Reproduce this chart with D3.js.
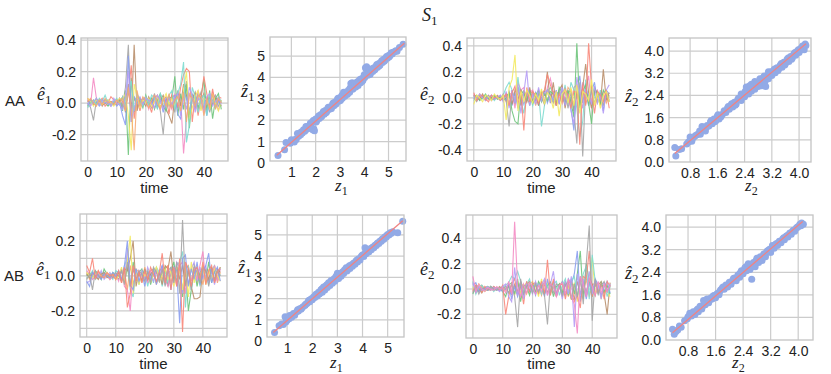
<!DOCTYPE html>
<html>
<head>
<meta charset="utf-8">
<script src="https://cdn.jsdelivr.net/npm/d3@7"></script>
<style>
  body { margin: 0; background: #fff; }
  text { font-family: "Liberation Sans", Arial, sans-serif; fill: #222; }
</style>
</head>
<body>
<div id="chart"></div>
<script>
//----------DATA----------
// residuals, in hundredths, time index 0..46
var aaE1_pink   = [2,-1,16,3,0,-1,2,1,-2,0, 1,2,-3,4,8,-6,3,-2,1,0, 2,-4,3,1,-2,5,-3,2,0,-4, 6,-3,4,-32,-10,5,3,-4,8,2, -6,4,-2,7,3,-5,2];
var aaE1_grey   = [0,-3,-11,2,1,-1,0,2,-1,1, 0,3,-2,10,37,-12,4,-2,3,-1, 2,0,-3,4,2,-5,-20,3,-2,5, -6,8,-2,4,14,-8,6,-3,2,7, -4,3,-6,2,5,-2,1];
var aaE1_brown  = [1,2,-1,0,2,-2,1,0,1,-1, 2,0,4,-6,12,-8,37,-5,3,1, -2,4,0,6,-3,2,5,-4,-8,-13, 4,6,-2,12,5,-9,3,7,-4,2, 6,-3,4,-1,3,2,-2];
var aaE1_green  = [-2,1,0,3,-1,2,0,-2,1,0, -1,2,-5,8,-33,16,-6,4,2,-3, 5,-1,3,-4,2,6,-2,-5,4,3, 17,-8,6,-4,12,-16,5,2,-3,4, 15,-6,8,-10,3,6,-4];
var aaE1_salmon = [3,0,2,-1,1,3,-2,0,4,2, -1,3,1,-4,6,24,-10,3,-5,2, 4,0,-6,3,5,-3,2,4,-7,6, 3,-2,10,18,22,20,-12,5,-8,3, 17,6,-3,9,-2,4,3];
var aaE1_blue   = [-1,2,0,1,-2,0,2,-1,0,1, -2,0,-8,-14,30,-6,4,1,-2,3, 0,2,-1,5,-3,2,-6,3,4,-2, 5,-7,-10,8,3,-5,4,-2,6,-4, 3,-8,2,5,-3,1,0];
var aaE1_yellow = [3,1,-2,2,0,-1,1,2,0,-2, 1,3,2,6,-8,-30,12,4,-3,2, 0,3,-2,1,4,-3,2,6,-1,3, -2,5,-6,8,20,-10,-3,4,8,-5, 3,2,-4,6,0,-5,2];
var aaE1_cyan   = [-3,0,2,-1,3,1,5,0,-2,1, 3,-1,4,-3,8,14,-5,6,2,-2, 4,-1,5,3,-4,6,2,-3,5,8, -4,6,12,26,-25,-14,10,4,-6,3, 5,-8,6,2,-3,4,1];
var aaE1_purple = [0,-2,1,3,-1,2,0,1,-2,3, 0,-1,-4,5,20,-12,-3,2,4,-1, 3,2,0,-3,5,2,-4,1,3,-2, 4,6,-8,3,-4,10,5,-6,3,2, -5,4,6,-2,1,3,-1];
var aaE1_orange = [1,3,0,-2,2,-1,3,0,1,-1, 2,0,3,-5,10,-4,-30,8,-2,4, 1,-3,2,5,0,-4,3,-2,6,-3, 2,4,-5,7,-12,6,3,-2,5,4, -8,2,-3,6,-4,3,0];

var aaE2_yellow = [-5,2,0,-3,2,1,-2,3,0,-1, 2,-17,8,14,33,-10,5,-3,6,2, -4,3,-2,7,-5,4,1,-8,5,-14, 3,6,-4,8,-6,10,-12,5,3,-2, 14,-6,4,-8,2,5,-3];
var aaE2_purple = [2,-1,3,0,-2,1,2,-1,0,2, -3,5,-8,6,-4,10,-12,4,21,-6, 3,-5,8,-2,4,6,-3,2,5,-4, 8,-6,3,-10,-20,16,4,-8,6,3, -5,9,-4,2,-12,6,10];
var aaE2_salmon = [4,-2,1,2,-1,-3,2,0,1,-2, 0,3,-6,4,9,-5,6,-25,8,-3, 5,2,-4,3,6,18,10,4,-6,3, -4,7,2,-8,5,4,-36,10,-6,42, 8,-12,5,2,-3,6,-8];
var aaE2_green  = [1,2,-2,0,3,-1,0,2,-1,1, -2,0,4,-10,-18,-20,6,3,-2,5, -4,2,6,-3,4,-2,5,3,-6,8, 4,-5,6,-3,-15,42,-8,5,10,-4, -20,8,3,-5,6,2,-3];
var aaE2_grey   = [0,-3,2,1,0,2,-2,1,0,-1, 3,-2,-22,6,-4,8,-3,5,2,-6, 4,-2,3,0,-5,6,2,-4,3,5, -2,6,-8,4,-10,-35,12,-45,8,-5, 6,-4,3,2,-6,4,-2];
var aaE2_brown  = [2,0,-1,3,-2,1,0,-1,2,0, -1,2,3,-5,6,2,-6,4,-3,8, -4,3,-6,5,2,20,-4,12,-5,6, 10,-8,4,6,-10,5,-6,8,26,4, -8,6,3,-5,22,-2,4];
var aaE2_cyan   = [-2,1,0,-1,2,0,1,-2,1,0, 2,8,12,6,-4,16,-2,-12,5,3, -6,2,4,-22,-6,5,8,3,-4,6, -3,10,-5,12,6,-8,-30,-18,14,-6, 10,3,-4,6,-2,4,1];
var aaE2_pink   = [3,-2,1,0,-1,2,-2,1,0,2, -1,3,-4,5,-8,12,6,8,-3,4, 6,-2,5,3,-4,8,15,4,-6,3, 6,-2,5,-4,8,10,-5,12,6,17, -8,4,6,-3,5,2,-2];
var aaE2_blue   = [0,1,-2,2,-1,0,2,-1,1,-2, 0,-2,5,-6,4,-8,3,-5,2,6, -3,4,-6,2,5,-4,3,-2,6,-5, 8,-4,5,-8,-25,6,17,-4,8,-6, 5,12,-3,4,-10,6,3];
var aaE2_orange = [2,-1,3,1,-2,0,-1,2,-1,0, 1,-3,4,2,-5,8,-4,6,-2,3, 5,-6,2,4,-3,6,-2,5,3,-4, 2,-6,8,5,-6,4,-3,6,-5,3, -2,5,4,-6,3,-4,2];

var abE1_salmon = [6,2,10,-2,3,0,-1,2,0,1, -2,3,-4,5,-18,-10,6,-3,2,-4, 3,-2,5,1,-3,2,13,-4,6,-8, 5,-6,10,-32,8,4,-6,3,5,-2, 8,-5,3,6,-4,2,5];
var abE1_grey   = [-2,1,-8,3,0,-1,2,0,1,-1, 2,0,3,-5,8,-6,4,-2,3,1, -3,2,-4,5,2,-3,4,-6,3,5, -4,8,-10,32,-6,4,-8,6,2,-4, 5,3,-6,4,-2,3,0];
var abE1_yellow = [2,0,-1,2,1,0,-1,2,0,1, -2,0,5,-4,8,23,-10,3,-5,2, 0,3,-4,2,5,-3,1,4,-2,3, -6,5,2,-8,6,-12,8,-4,3,-2, 6,-5,3,-2,4,0,-3];
var abE1_blue   = [-3,-6,2,0,1,-2,1,0,-1,2, 0,3,-2,6,20,-5,-8,4,-3,2, -6,3,-2,4,-5,2,6,-3,4,-8, 5,3,-27,10,12,-6,4,-2,8,-5, 3,6,13,-4,2,5,-3];
var abE1_pink   = [3,1,-2,0,2,-1,0,1,-2,0, 1,-3,4,-6,-8,-20,5,-2,3,-1, 2,-4,3,0,2,-3,5,-2,-6,4, 3,-5,6,8,-10,4,-3,5,-2,6, 14,-4,3,-2,6,-3,4];
var abE1_brown  = [1,-1,2,0,-2,1,2,-1,0,1, -2,2,-3,4,3,10,20,-6,2,-3, 4,-2,1,3,-4,2,-5,6,4,14, -3,5,-2,6,-5,3,-6,-13,-13,-12, 4,3,-2,5,-3,4,2];
var abE1_green  = [0,2,-1,3,1,-2,4,1,-1,2, 0,-2,3,-4,5,-6,8,-3,2,4, -2,3,-5,2,4,-3,2,5,-6,3, 8,-4,6,-12,5,-20,-8,4,-6,2, 5,-3,8,-4,3,-2,5];
var abE1_cyan   = [-1,0,3,-2,0,2,-1,1,0,-2, 3,2,-3,6,10,-8,-12,4,-5,2, 3,-6,2,-4,5,2,-6,3,-4,5, -2,6,8,14,-18,6,-8,3,5,-6, 4,2,-5,3,6,-2,1];
var abE1_purple = [-4,-3,0,2,-1,3,-2,0,2,-1, 1,0,4,-3,16,-6,5,2,-4,3, -2,5,0,-3,4,-2,6,-5,3,2, -4,8,5,-10,6,-5,4,8,-3,5, -2,6,-4,3,-5,2,4];
var abE1_orange = [2,-2,1,0,3,-1,2,0,-2,1, 0,2,-4,3,-8,6,-5,4,2,-3, 5,-2,3,4,-5,3,-2,4,6,-4, 3,-6,5,-8,4,6,-3,5,-4,2, -5,4,3,-2,6,-4,2];

var abE2_pink   = [10,-2,4,0,-2,1,0,-1,2,0, 1,-3,6,-4,53,2,-6,4,-3,5, 2,-4,3,-2,6,-5,4,2,-6,3, 5,-4,8,-6,-12,-35,10,4,-6,8, 2,-5,6,-3,4,-2,3];
var abE2_purple = [5,-3,2,-1,0,2,-1,1,0,-2, 2,4,-6,-10,17,-5,6,-8,4,2, -4,6,-2,3,8,-5,4,14,-6,3, -8,6,-4,10,-30,12,-5,8,-6,14, -4,6,3,-8,5,-2,4];
var abE2_grey   = [-3,2,-4,1,0,-1,2,0,-1,1, 0,2,-3,4,-6,-30,8,-4,2,5, -3,4,-2,3,-5,-28,6,-3,4,2, -5,3,6,-8,4,-6,10,-12,20,50, -25,8,-4,3,6,-2,3];
var abE2_salmon = [-2,3,1,-3,2,0,-1,2,0,-1, 3,-20,-6,4,8,-4,3,-12,6,-2, 4,5,-3,6,-4,23,-5,8,-6,3, 4,-8,5,6,-10,-5,-15,10,8,30, -6,5,-3,4,-8,6,2];
var abE2_cyan   = [6,-4,2,3,-1,0,2,-2,1,0, 1,3,5,10,8,14,6,-3,4,8, -2,5,3,-4,6,2,-3,4,6,-5, 3,8,-4,6,10,-6,4,12,18,-8, 27,6,-4,3,5,-6,2];
var abE2_blue   = [3,5,-2,0,1,-1,0,2,-1,1, -2,0,4,-8,2,-6,3,-4,5,-2, 3,-5,4,2,-6,8,-3,5,-4,2, 6,-5,8,4,12,30,-10,6,-8,5, -4,8,3,-5,2,6,-3];
var abE2_green  = [-4,2,0,-3,1,2,0,-1,1,0, -2,-6,3,5,-4,8,-10,3,2,-5, 4,-3,6,2,-4,3,5,-6,2,4, -3,6,-5,8,-4,12,30,-8,20,6, -6,4,-3,5,-2,3,-4];
var abE2_yellow = [2,-3,4,1,-2,0,-1,2,0,1, -1,0,-3,4,-5,6,-3,2,5,-2, 4,3,-6,8,-3,5,-2,4,-6,3, 6,-4,2,-8,5,-10,8,4,-6,6, 25,-4,5,-8,3,-2,-6];
var abE2_brown  = [1,0,-2,3,0,-1,2,-1,0,2, -1,0,2,-4,3,-2,5,-3,4,6, -2,3,-4,2,5,-3,4,2,-5,3, -6,4,2,-8,-8,6,-4,5,-3,8, 4,-5,3,6,-4,-20,5];
var abE2_orange = [-1,3,2,-2,1,0,2,-1,1,0, 2,-1,3,-2,4,-3,5,2,-4,3, 6,-2,4,-5,3,2,-4,6,-3,4, -2,5,-6,4,3,-5,6,-4,8,-6, 3,5,-2,4,-3,2,-1];

// scatter points [z, z_hat]
var aaZ1 = [[0.45,0.35],[0.72,0.62],[0.78,0.95],[0.95,0.92],[1.0,1.08],[1.05,1.0],[1.12,0.98],[1.15,1.1],[1.2,1.1],[1.25,1.38],
  [1.3,1.25],[1.38,1.32],[1.4,1.45],[1.45,1.4],[1.5,1.55],[1.55,1.48],[1.6,1.7],[1.6,1.55],[1.65,1.6],[1.7,1.72],
  [1.72,1.62],[1.75,1.68],[1.78,1.85],[1.8,1.75],[1.85,1.9],[1.88,1.55],[1.9,1.98],[1.92,1.6],[1.95,1.5],[1.98,1.95],
  [2.0,2.05],[2.02,1.92],[2.05,1.98],[2.1,2.12],[2.12,2.2],[2.15,2.08],[2.2,2.25],[2.22,2.15],[2.25,2.18],[2.3,2.35],
  [2.32,2.4],[2.35,2.28],[2.4,2.45],[2.42,2.35],[2.45,2.38],[2.5,2.55],[2.52,2.6],[2.55,2.5],[2.6,2.62],[2.62,2.55],
  [2.65,2.55],[2.7,2.75],[2.72,2.8],[2.75,2.68],[2.8,2.85],[2.82,2.75],[2.85,2.78],[2.9,2.98],[2.92,3.02],[2.95,2.88],
  [3.0,3.05],[3.02,2.92],[3.05,3.0],[3.08,3.15],[3.1,3.02],[3.12,3.2],[3.15,3.3],[3.2,3.12],[3.22,3.3],[3.25,3.28],
  [3.3,3.2],[3.32,3.25],[3.35,3.4],[3.4,3.3],[3.42,3.5],[3.45,3.72],[3.5,3.68],[3.5,3.75],[3.52,3.45],[3.55,3.48],
  [3.6,3.65],[3.6,3.72],[3.62,3.7],[3.65,3.55],[3.7,3.78],[3.72,3.68],[3.75,3.62],[3.8,3.85],[3.82,3.9],[3.85,3.75],
  [3.9,3.95],[3.92,3.82],[3.95,3.88],[4.0,4.12],[4.02,4.0],[4.05,4.45],[4.08,4.4],[4.1,4.5],[4.12,4.35],[4.12,4.2],
  [4.15,4.1],[4.2,4.25],[4.22,4.15],[4.25,4.15],[4.3,4.35],[4.32,4.4],[4.35,4.28],[4.4,4.45],[4.42,4.35],[4.45,4.38],
  [4.5,4.55],[4.52,4.6],[4.55,4.48],[4.6,4.65],[4.62,4.55],[4.65,4.58],[4.7,4.72],[4.72,4.78],[4.75,4.7],[4.8,4.85],
  [4.82,4.75],[4.85,4.8],[4.9,4.92],[4.92,4.98],[4.95,4.9],[5.0,5.02],[5.02,4.95],[5.05,5.0],[5.1,5.12],[5.12,5.15],
  [5.15,5.1],[5.2,5.18],[5.25,5.2],[5.3,5.25],[5.35,5.22],[5.45,5.4],[5.6,5.55]];
var aaZ2 = [[0.35,0.52],[0.38,0.22],[0.48,0.45],[0.55,0.48],[0.7,0.65],[0.75,0.72],[0.8,0.9],[0.85,0.75],[0.9,0.88],[0.95,0.95],
  [1.0,0.98],[1.05,1.02],[1.08,1.12],[1.1,1.0],[1.15,1.28],[1.18,1.15],[1.2,1.25],[1.25,1.12],[1.28,1.25],[1.3,1.32],
  [1.35,1.3],[1.4,1.45],[1.42,1.5],[1.45,1.38],[1.5,1.55],[1.52,1.45],[1.55,1.48],[1.6,1.65],[1.62,1.7],[1.65,1.55],
  [1.7,1.62],[1.72,1.68],[1.75,1.72],[1.8,1.85],[1.82,1.8],[1.85,1.78],[1.9,1.95],[1.92,2.0],[1.95,1.9],[2.0,2.05],
  [2.02,2.1],[2.05,1.98],[2.1,2.15],[2.12,2.05],[2.15,2.08],[2.2,2.25],[2.22,2.3],[2.25,2.3],[2.3,2.22],[2.3,2.45],
  [2.32,2.35],[2.35,2.4],[2.4,2.35],[2.42,2.55],[2.45,2.7],[2.48,2.62],[2.5,2.5],[2.52,2.45],[2.55,2.75],[2.58,2.65],
  [2.6,2.55],[2.6,2.8],[2.65,2.68],[2.68,2.78],[2.7,2.62],[2.7,2.9],[2.75,2.85],[2.78,2.8],[2.8,2.72],[2.85,3.0],
  [2.88,2.95],[2.9,2.85],[2.9,2.75],[2.95,3.05],[2.98,3.1],[3.0,2.9],[3.02,2.72],[3.05,3.1],[3.08,3.05],[3.1,3.0],
  [3.1,3.25],[3.15,3.2],[3.18,3.25],[3.2,3.12],[3.25,3.3],[3.28,3.35],[3.3,3.22],[3.35,3.4],[3.38,3.3],[3.4,3.35],
  [3.45,3.5],[3.48,3.55],[3.5,3.42],[3.55,3.6],[3.58,3.5],[3.6,3.55],[3.65,3.7],[3.68,3.75],[3.7,3.62],[3.75,3.8],
  [3.78,3.7],[3.8,3.75],[3.85,3.9],[3.88,3.95],[3.9,3.85],[3.95,4.0],[3.98,4.05],[4.0,3.95],[4.05,4.1],[4.08,4.05],
  [4.1,4.18],[4.15,4.05],[4.18,4.25],[4.2,4.2]];
var abZ1 = [[0.5,0.4],[0.68,0.72],[0.78,0.8],[0.85,0.78],[0.92,1.15],[0.95,0.9],[1.0,0.98],[1.05,1.1],[1.08,1.05],[1.1,1.2],
  [1.18,1.12],[1.22,1.2],[1.25,1.3],[1.3,1.22],[1.38,1.38],[1.42,1.48],[1.45,1.42],[1.5,1.52],[1.55,1.5],[1.58,1.55],
  [1.62,1.6],[1.7,1.68],[1.72,1.7],[1.75,1.75],[1.8,1.78],[1.85,1.9],[1.88,1.92],[1.9,1.85],[1.95,1.98],[2.0,1.95],
  [2.02,2.0],[2.05,2.08],[2.1,2.05],[2.12,2.15],[2.15,2.2],[2.2,2.12],[2.25,2.3],[2.28,2.22],[2.3,2.25],[2.35,2.42],
  [2.38,2.45],[2.4,2.3],[2.45,2.55],[2.48,2.5],[2.5,2.4],[2.55,2.6],[2.58,2.65],[2.6,2.52],[2.65,2.75],[2.68,2.7],
  [2.7,2.62],[2.75,2.85],[2.78,2.78],[2.8,2.72],[2.85,2.9],[2.88,2.95],[2.9,2.82],[2.95,3.05],[2.98,2.92],[3.0,3.2],
  [3.05,2.95],[3.08,3.05],[3.1,3.15],[3.15,3.05],[3.18,3.2],[3.2,3.25],[3.25,3.18],[3.28,3.35],[3.3,3.3],[3.35,3.45],
  [3.38,3.3],[3.4,3.35],[3.45,3.5],[3.48,3.55],[3.5,3.42],[3.55,3.58],[3.58,3.6],[3.6,3.52],[3.65,3.68],[3.68,3.65],
  [3.7,3.62],[3.75,3.78],[3.78,3.82],[3.8,3.72],[3.85,3.88],[3.88,3.85],[3.9,3.82],[3.95,3.98],[3.98,4.02],[4.0,4.05],
  [4.05,3.98],[4.08,4.1],[4.1,4.4],[4.15,4.12],[4.18,4.2],[4.2,4.25],[4.25,4.2],[4.28,4.28],[4.3,4.35],[4.35,4.3],
  [4.38,4.38],[4.4,4.42],[4.45,4.4],[4.48,4.48],[4.5,4.52],[4.55,4.5],[4.58,4.58],[4.6,4.62],[4.65,4.6],[4.68,4.68],
  [4.7,4.72],[4.75,4.7],[4.78,4.78],[4.8,4.82],[4.85,4.8],[4.88,4.88],[4.9,4.92],[4.95,4.9],[4.98,4.98],[5.0,5.02],
  [5.05,5.0],[5.08,5.05],[5.1,5.1],[5.15,5.08],[5.2,5.15],[5.4,5.1],[5.6,5.65]];
var abZ2 = [[0.35,0.38],[0.4,0.2],[0.45,0.3],[0.5,0.35],[0.55,0.5],[0.6,0.45],[0.7,0.68],[0.78,0.75],[0.8,0.82],[0.85,0.95],
  [0.9,0.85],[0.92,0.95],[0.95,1.0],[1.0,0.9],[1.05,1.05],[1.08,1.1],[1.1,1.0],[1.15,1.2],[1.2,1.1],[1.22,1.2],
  [1.25,1.4],[1.3,1.25],[1.32,1.38],[1.35,1.45],[1.4,1.32],[1.42,1.4],[1.45,1.48],[1.5,1.45],[1.52,1.55],[1.55,1.58],
  [1.6,1.5],[1.62,1.6],[1.65,1.65],[1.7,1.6],[1.72,1.72],[1.75,1.78],[1.8,1.85],[1.82,1.88],[1.85,1.8],[1.9,1.95],
  [1.92,1.92],[1.95,1.88],[2.0,2.05],[2.02,2.0],[2.05,1.98],[2.1,2.12],[2.12,2.18],[2.15,2.2],[2.2,2.1],[2.22,2.2],
  [2.25,2.3],[2.3,2.22],[2.32,2.38],[2.35,2.45],[2.4,2.35],[2.42,2.45],[2.45,2.55],[2.48,2.6],[2.5,2.45],[2.52,2.5],
  [2.55,2.7],[2.6,2.5],[2.62,2.65],[2.65,2.15],[2.68,2.6],[2.7,2.75],[2.75,2.6],[2.78,2.82],[2.8,2.9],[2.85,2.75],
  [2.88,2.85],[2.9,2.95],[2.95,2.82],[2.98,2.95],[3.0,3.05],[3.05,2.95],[3.08,3.1],[3.1,3.15],[3.15,3.2],[3.18,3.22],
  [3.2,3.1],[3.25,3.35],[3.28,3.3],[3.3,3.25],[3.35,3.4],[3.38,3.42],[3.4,3.35],[3.45,3.5],[3.48,3.5],[3.5,3.45],
  [3.55,3.58],[3.58,3.62],[3.6,3.55],[3.65,3.68],[3.68,3.7],[3.7,3.65],[3.75,3.78],[3.78,3.8],[3.8,3.75],[3.85,3.88],
  [3.88,3.9],[3.9,3.85],[3.95,3.98],[3.98,4.0],[4.0,4.02],[4.05,4.1],[4.08,4.05],[4.1,4.15],[4.15,4.1]];

// fitted line end points
var aaZ1Fit = [[0.4,0.36],[5.65,5.6]];
var aaZ2Fit = [[0.35,0.31],[4.2,4.26]];
var abZ1Fit = [[0.45,0.4],[5.6,5.67]];
var abZ2Fit = [[0.35,0.26],[4.13,4.2]];

// tick values
var timeTicks = [0, 10, 20, 30, 40];
var e1Ticks = [-0.2, 0.0, 0.2, 0.4];
var e1TicksAB = [-0.2, 0.0, 0.2];
var e1GridAB = [-0.3, -0.2, -0.1, 0.0, 0.1, 0.2, 0.3];
var e2Ticks = [-0.4, -0.2, 0.0, 0.2, 0.4];
var e2TicksAB = [-0.2, 0.0, 0.2, 0.4];
var z1XTicks = [1, 2, 3, 4, 5];
var z1YTicks = [0, 1, 2, 3, 4, 5];
var z2XTicks = [0.8, 1.6, 2.4, 3.2, 4.0];
var z2YTicks = [0.0, 0.8, 1.6, 2.4, 3.2, 4.0];

var colors = {
  pink: '#f48cc4', grey: '#a5a5a5', brown: '#b98f6c', green: '#6ec47b', salmon: '#f8877a',
  blue: '#8a9df0', yellow: '#f3ea62', cyan: '#7edcd0', purple: '#b59cf5', orange: '#f6a874'
};

//----------SVG----------
var svgWidth = 831, svgHeight = 374;
var svg = d3.select('#chart').append('svg')
  .attr('width', svgWidth).attr('height', svgHeight);

var gridColor = '#cccccc';
var pointColor = '#92aae6';
var fitColor = '#f08383';

function mathText(x, y, base, sub, size) {
  var t = svg.append('text').attr('x', x).attr('y', y)
    .style('font-family', '"Liberation Serif", "DejaVu Serif", serif');
  t.append('tspan').text(base).style('font-style', 'italic').style('font-size', size + 'px');
  t.append('tspan').text(sub).attr('dy', 4).style('font-size', (size - 5) + 'px');
  return t;
}

function drawPanel(p, idx) {
  var x = d3.scaleLinear().domain(p.xDomain).range([p.left, p.right]);
  var y = d3.scaleLinear().domain(p.yDomain).range([p.bottom, p.top]);
  var g = svg.append('g');

  // grid
  g.selectAll('.vgrid').data(p.xTicks.filter(d => x(d) > p.left && x(d) < p.right)).enter()
    .append('line')
    .attr('x1', d => x(d)).attr('x2', d => x(d))
    .attr('y1', p.top).attr('y2', p.bottom)
    .attr('stroke', gridColor).attr('stroke-width', 1.2);
  g.selectAll('.hgrid').data((p.yGrid || p.yTicks).filter(d => y(d) > p.top && y(d) < p.bottom)).enter()
    .append('line')
    .attr('x1', p.left).attr('x2', p.right)
    .attr('y1', d => y(d)).attr('y2', d => y(d))
    .attr('stroke', gridColor).attr('stroke-width', 1.2);

  // axes (labels only)
  var xAxis = d3.axisBottom(x).tickValues(p.xTicks).tickSize(0).tickPadding(6).tickFormat(p.xFormat);
  var yAxis = d3.axisLeft(y).tickValues(p.yTicks).tickSize(0).tickPadding(5).tickFormat(p.yFormat);
  g.append('g').attr('transform', `translate(0, ${p.bottom})`).call(xAxis)
    .call(a => a.select('.domain').remove());
  g.append('g').attr('transform', `translate(${p.left}, 0)`).call(yAxis)
    .call(a => a.select('.domain').remove());
  g.selectAll('.tick text').style('font-size', '14px').style('font-family', '"Liberation Sans", Arial, sans-serif').attr('fill', '#222');

  // clip
  var clipId = 'clip' + idx;
  svg.append('clipPath').attr('id', clipId).append('rect')
    .attr('x', p.left).attr('y', p.top)
    .attr('width', p.right - p.left).attr('height', p.bottom - p.top);

  if (p.type === 'line') {
    var line = d3.line().x((d, i) => x(i)).y(d => y(d / 100));
    g.append('g').attr('clip-path', `url(#${clipId})`)
      .selectAll('path').data(p.series).enter().append('path')
      .attr('d', d => line(d.values))
      .attr('fill', 'none')
      .attr('stroke', d => colors[d.color])
      .attr('stroke-width', 1.1)
      .attr('opacity', 0.9);
  } else {
    g.append('g').selectAll('circle').data(p.points).enter().append('circle')
      .attr('cx', d => x(d[0])).attr('cy', d => y(d[1]))
      .attr('r', 3.5)
      .attr('fill', pointColor);
    g.append('path')
      .attr('d', d3.line().x(d => x(d[0])).y(d => y(d[1]))(p.fit))
      .attr('stroke', fitColor).attr('stroke-width', 1.3).attr('fill', 'none');
  }

  // frame
  g.append('rect')
    .attr('x', p.left).attr('y', p.top)
    .attr('width', p.right - p.left).attr('height', p.bottom - p.top)
    .attr('fill', 'none').attr('stroke', '#c4c4c4').attr('stroke-width', 1.3);
}

function seriesOf(names, arrays) {
  return names.map((n, i) => ({ color: n, values: arrays[i] }));
}

var fmt1 = d => d.toFixed(1);
var fmtInt = d => String(d);

var panels = [
  { type: 'line', left: 81, right: 228, top: 38, bottom: 161,
    xDomain: [-2.3, 48.3], yDomain: [-0.368, 0.413], xTicks: timeTicks, yTicks: e1Ticks,
    xFormat: fmtInt, yFormat: fmt1,
    series: seriesOf(['pink','grey','brown','green','salmon','blue','yellow','cyan','purple','orange'],
      [aaE1_pink, aaE1_grey, aaE1_brown, aaE1_green, aaE1_salmon, aaE1_blue, aaE1_yellow, aaE1_cyan, aaE1_purple, aaE1_orange]) },
  { type: 'scatter', left: 270, right: 406, top: 37, bottom: 161,
    xDomain: [0.12, 5.72], yDomain: [0.09, 5.89], xTicks: z1XTicks, yTicks: z1YTicks,
    xFormat: fmtInt, yFormat: fmtInt, points: aaZ1, fit: aaZ1Fit },
  { type: 'line', left: 467, right: 616, top: 38, bottom: 161,
    xDomain: [-2.3, 48.3], yDomain: [-0.485, 0.46], xTicks: timeTicks, yTicks: e2Ticks,
    xFormat: fmtInt, yFormat: fmt1,
    series: seriesOf(['orange','blue','pink','cyan','brown','grey','green','purple','salmon','yellow'],
      [aaE2_orange, aaE2_blue, aaE2_pink, aaE2_cyan, aaE2_brown, aaE2_grey, aaE2_green, aaE2_purple, aaE2_salmon, aaE2_yellow]) },
  { type: 'scatter', left: 669, right: 811, top: 38, bottom: 162,
    xDomain: [0.18, 4.35], yDomain: [0.0, 4.47], xTicks: z2XTicks, yTicks: z2YTicks,
    xFormat: fmt1, yFormat: fmt1, points: aaZ2, fit: aaZ2Fit },
  { type: 'line', left: 80, right: 227, top: 214, bottom: 337,
    xDomain: [-2.3, 48.3], yDomain: [-0.349, 0.354], xTicks: timeTicks, yTicks: e1TicksAB, yGrid: e1GridAB,
    xFormat: fmtInt, yFormat: fmt1,
    series: seriesOf(['orange','green','cyan','purple','pink','brown','yellow','blue','grey','salmon'],
      [abE1_orange, abE1_green, abE1_cyan, abE1_purple, abE1_pink, abE1_brown, abE1_yellow, abE1_blue, abE1_grey, abE1_salmon]) },
  { type: 'scatter', left: 267, right: 404, top: 215, bottom: 337,
    xDomain: [0.2, 5.65], yDomain: [0.19, 5.94], xTicks: z1XTicks, yTicks: z1YTicks,
    xFormat: fmtInt, yFormat: fmtInt, points: abZ1, fit: abZ1Fit },
  { type: 'line', left: 466, right: 617, top: 215, bottom: 338,
    xDomain: [-2.3, 48.3], yDomain: [-0.386, 0.583], xTicks: timeTicks, yTicks: e2TicksAB,
    xFormat: fmtInt, yFormat: fmt1,
    series: seriesOf(['orange','brown','yellow','green','blue','cyan','salmon','purple','grey','pink'],
      [abE2_orange, abE2_brown, abE2_yellow, abE2_green, abE2_blue, abE2_cyan, abE2_salmon, abE2_purple, abE2_grey, abE2_pink]) },
  { type: 'scatter', left: 666, right: 813, top: 215, bottom: 340,
    xDomain: [0.16, 4.43], yDomain: [0.0, 4.43], xTicks: z2XTicks, yTicks: z2YTicks,
    xFormat: fmt1, yFormat: fmt1, points: abZ2, fit: abZ2Fit }
];

panels.forEach(drawPanel);

//----------LABELS----------
// title
mathText(422, 21, 'S', '1', 18);

// row labels
svg.append('text').attr('x', 5).attr('y', 106).text('AA').style('font-size', '15px');
svg.append('text').attr('x', 4).attr('y', 281).text('AB').style('font-size', '15px');

// y labels
mathText(37, 100, 'ê', '1', 18);
mathText(241, 97, 'ẑ', '1', 18);
mathText(420, 100, 'ê', '2', 18);
mathText(625, 102, 'ẑ', '2', 18);
mathText(36, 275, 'ê', '1', 18);
mathText(238, 273, 'ẑ', '1', 18);
mathText(420, 275, 'ê', '2', 18);
mathText(625, 279, 'ẑ', '2', 18);

// x labels
[[154.5, 193], [541.5, 193], [153.5, 369], [541.5, 369]].forEach(function(pos) {
  svg.append('text').attr('x', pos[0]).attr('y', pos[1]).attr('text-anchor', 'middle')
    .text('time').style('font-size', '15px');
});
mathText(335, 191, 'z', '1', 17);
mathText(745, 191, 'z', '2', 17);
mathText(330, 368, 'z', '1', 17);
mathText(732, 368, 'z', '2', 17);
</script>
</body>
</html>
